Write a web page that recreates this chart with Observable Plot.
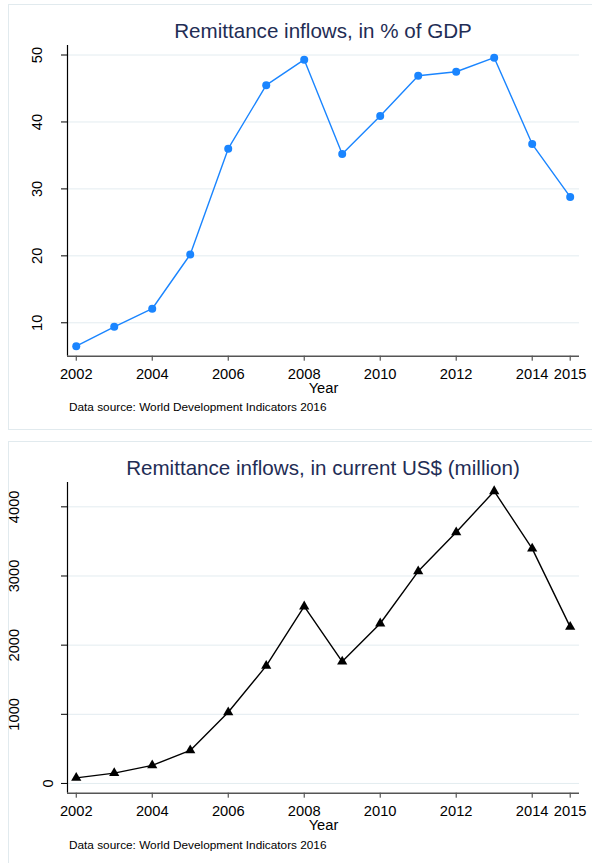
<!DOCTYPE html>
<html>
<head>
<meta charset="utf-8">
<script src="https://cdn.jsdelivr.net/npm/d3@7"></script>
<script src="https://cdn.jsdelivr.net/npm/@observablehq/plot@0.6"></script>
<style>
  body { margin: 0; background: #fff; font-family: "Liberation Sans", Arial, sans-serif; }
  #page { position: relative; width: 592px; height: 863px; overflow: hidden; background: #fff; }
  .box { position: absolute; border: 1px solid #e1eaee; box-sizing: border-box; }
  .title { position: absolute; left: 67px; width: 512px; text-align: center; font-size: 20.6px; line-height: 1; color: #1f2d55; white-space: nowrap; }
  .caption { position: absolute; left: 69px; font-size: 11.8px; line-height: 1; color: #000; white-space: nowrap; }
  .chart { position: absolute; left: 0; }
  .chart svg { display: block; overflow: visible; }
</style>
</head>
<body>
<div id="page">
  <div class="box" style="left:8px;top:4px;width:600px;height:426px;"></div>
  <div class="box" style="left:8px;top:441px;width:600px;height:440px;"></div>
  <div class="title" style="top:21px;">Remittance inflows, in % of GDP</div>
  <div class="chart" id="c1" style="top:40px;"></div>
  <div class="caption" style="top:402px;">Data source: World Development Indicators 2016</div>
  <div class="title" style="top:457.5px;">Remittance inflows, in current US$ (million)</div>
  <div class="chart" id="c2" style="top:477px;"></div>
  <div class="caption" style="top:839.5px;">Data source: World Development Indicators 2016</div>
</div>
<script>
// ---- data ----
const years = [2002, 2003, 2004, 2005, 2006, 2007, 2008, 2009, 2010, 2011, 2012, 2013, 2014, 2015];
const remitPctGDP = [6.5, 9.4, 12.1, 20.2, 36.0, 45.5, 49.3, 35.2, 40.9, 46.9, 47.5, 49.6, 36.7, 28.8];
const remitUSDmillion = [81, 149, 261, 478, 1029, 1700, 2560, 1762, 2313, 3067, 3632, 4226, 3396, 2265];
const xTicks = [2002, 2004, 2006, 2008, 2010, 2012, 2014, 2015];
const yTicksPct = [10, 20, 30, 40, 50];
const yTicksUSD = [0, 1000, 2000, 3000, 4000];
const xAxisLabel = "Year";

const rowsPct = years.map((year, i) => ({year, value: remitPctGDP[i]}));
const rowsUSD = years.map((year, i) => ({year, value: remitUSDmillion[i]}));

const xDomain = [2001.77, 2015.245];
const FONT = "'Liberation Sans', Arial, Helvetica, sans-serif";

function panel({rows, yDomain, yTicks, color, symbol, r}) {
  const yLabels = yTicks.map(t => Plot.text([t], {
    y: d => d,
    frameAnchor: "left",
    text: d => String(d),
    rotate: -90,
    dx: -(8 + 11.3 * String(t).length),
    fontSize: 14.7,
    textAnchor: "middle",
    lineAnchor: "middle",
    fill: "#000"
  }));
  return Plot.plot({
    width: 592,
    height: 358,
    marginLeft: 67,
    marginRight: 13,
    marginTop: 5,
    marginBottom: 42.3,
    style: {fontFamily: FONT, background: "transparent", overflow: "visible"},
    x: {domain: xDomain},
    y: {domain: yDomain},
    marks: [
      Plot.gridY(yTicks, {stroke: "#e3ecf0", strokeOpacity: 1, strokeWidth: 1}),
      Plot.line(rows, {x: "year", y: "value", stroke: color, strokeWidth: 1.4}),
      Plot.dot(rows, {x: "year", y: "value", fill: color, stroke: "none", r, symbol}),
      Plot.axisY(yTicks, {tickSize: 6, tickFormat: () => "", stroke: "#000", label: null}),
      Plot.axisX(xTicks, {tickSize: 5, tickPadding: 7.3, tickFormat: d => String(d), fontSize: 14.7, stroke: "#333", fill: "#000", label: null}),
      ...yLabels,
      Plot.ruleX([xDomain[0]], {stroke: "#000", strokeWidth: 1.2}),
      Plot.ruleY([yDomain[0]], {stroke: "#555", strokeWidth: 1.6}),
      Plot.text([xAxisLabel], {frameAnchor: "bottom", dy: 32, fontSize: 14.7, lineAnchor: "middle", fill: "#000"})
    ]
  });
}

document.getElementById("c1").append(panel({
  rows: rowsPct, yDomain: [5.01, 51.42], yTicks: yTicksPct, color: "#1a85ff", symbol: "circle", r: 4
}));
document.getElementById("c2").append(panel({
  rows: rowsUSD, yDomain: [-141, 4352], yTicks: yTicksUSD, color: "#000", symbol: "triangle", r: 3.8
}));
</script>
</body>
</html>
